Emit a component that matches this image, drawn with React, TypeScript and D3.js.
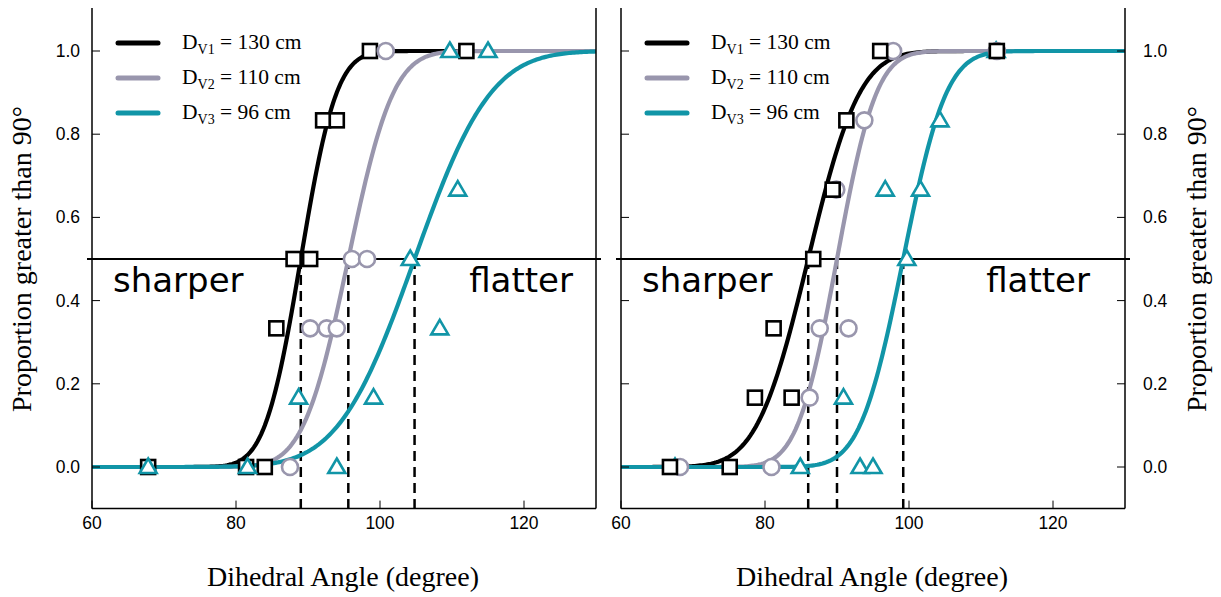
import React from "react";
import * as d3 from "d3";

// ---------- data ----------
const xTicks = [60, 80, 100, 120];
const yTicks = [0, 0.2, 0.4, 0.6, 0.8, 1.0];
const seriesNames = ["D_V1 = 130 cm", "D_V2 = 110 cm", "D_V3 = 96 cm"];
const legendSubs = ["V1", "V2", "V3"];
const legendRest = [" = 130 cm", " = 110 cm", " = 96 cm"];
const colors = ["#000000", "#9996ad", "#1195a7"];

// fitted psychometric functions (PSE, sigma) per panel
const leftPSE = [89.0, 95.6, 104.8];
const leftSigma = [3.9, 4.9, 8.3];
const rightPSE = [86.0, 90.0, 99.2];
const rightSigma = [5.6, 4.3, 4.7];

// left panel observed proportions
const leftSquares: [number, number][] = [
  [67.8, 0], [81.4, 0], [84.0, 0], [85.6, 1 / 3], [88.0, 0.5], [90.3, 0.5],
  [92.1, 5 / 6], [94.0, 5 / 6], [98.6, 1], [112.0, 1],
];
const leftCircles: [number, number][] = [
  [87.5, 0], [90.3, 1 / 3], [92.6, 1 / 3], [94.0, 1 / 3], [96.1, 0.5], [98.2, 0.5],
  [100.8, 1],
];
const leftTriangles: [number, number][] = [
  [67.8, 0], [81.6, 0], [94.0, 0], [88.7, 1 / 6], [99.1, 1 / 6], [108.3, 1 / 3],
  [104.2, 0.5], [110.8, 2 / 3], [109.7, 1], [115.0, 1],
];

// right panel observed proportions
const rightSquares: [number, number][] = [
  [66.8, 0], [75.1, 0], [78.6, 1 / 6], [83.7, 1 / 6], [81.2, 1 / 3], [86.7, 0.5],
  [89.4, 2 / 3], [91.3, 5 / 6], [96.0, 1], [112.2, 1],
];
const rightCircles: [number, number][] = [
  [68.2, 0], [80.9, 0], [86.2, 1 / 6], [87.6, 1 / 3], [91.6, 1 / 3], [89.9, 2 / 3],
  [93.8, 5 / 6], [97.8, 1], [112.2, 1],
];
const rightTriangles: [number, number][] = [
  [67.5, 0], [84.9, 0], [93.2, 0], [95.0, 0], [90.9, 1 / 6], [99.7, 0.5],
  [96.7, 2 / 3], [101.6, 2 / 3], [104.3, 5 / 6], [112.1, 1],
];

// ---------- helpers ----------
function erf(x: number) {
  const s = x < 0 ? -1 : 1;
  x = Math.abs(x);
  const t = 1 / (1 + 0.3275911 * x);
  const y =
    1 -
    ((((1.061405429 * t - 1.453152027) * t + 1.421413741) * t - 0.284496736) * t + 0.254829592) *
      t *
      Math.exp(-x * x);
  return s * y;
}
const cdf = (x: number, m: number, s: number) => 0.5 * (1 + erf((x - m) / (s * Math.SQRT2)));

const yScale = d3.scaleLinear().domain([-0.1, 1.1]).range([508.6, 9.4]);
const Y0 = 508.6;
const Ytop = 8;

const triPath = "M0,-8.5 L8.5,6 L-8.5,6 Z";

const serif = "'Liberation Serif', 'Times New Roman', serif";
const sans = "'Liberation Sans', Arial, sans-serif";
const dejavu = "'DejaVu Sans', sans-serif";

type PanelProps = {
  x0: number;
  x1: number;
  pse: number[];
  sigma: number[];
  squares: [number, number][];
  circles: [number, number][];
  triangles: [number, number][];
  side: "left" | "right";
  flatterRight: number;
};

function Panel({ x0, x1, pse, sigma, squares, circles, triangles, side, flatterRight }: PanelProps) {
  const xScale = d3.scaleLinear().domain([60, 130]).range([x0, x1]);
  const grid = d3.range(60, 130.001, 0.25);

  const curves = pse.map((m, i) => {
    const path = d3
      .line<number>()
      .x((d) => xScale(d))
      .y((d) => yScale(cdf(d, m, sigma[i])))(grid);
    return <path key={"c" + i} d={path || ""} fill="none" stroke={colors[i]} strokeWidth={4.2} />;
  });

  const sq = squares.map(([x, y], i) => (
    <rect
      key={"s" + i}
      x={xScale(x) - 7}
      y={yScale(y) - 7}
      width={14}
      height={14}
      fill="#fff"
      stroke={colors[0]}
      strokeWidth={2.6}
    />
  ));
  const ci = circles.map(([x, y], i) => (
    <circle key={"o" + i} cx={xScale(x)} cy={yScale(y)} r={8} fill="#fff" stroke={colors[1]} strokeWidth={2.6} />
  ));
  const tr = triangles.map(([x, y], i) => (
    <path
      key={"t" + i}
      d={triPath}
      transform={`translate(${xScale(x)},${yScale(y)})`}
      fill="#fff"
      stroke={colors[2]}
      strokeWidth={2.6}
      strokeLinejoin="miter"
    />
  ));

  const markers = side === "left" ? [sq, ci, tr] : [tr, ci, sq];

  const legX = x0 + 26;
  const legY = [43, 78, 113];

  return (
    <g>
      {/* 0.5 reference line */}
      <line x1={x0 - 5} x2={x1 + 5} y1={yScale(0.5)} y2={yScale(0.5)} stroke="#000" strokeWidth={1.8} />
      {/* dashed drop lines */}
      {pse.map((m, i) => (
        <line
          key={"d" + i}
          x1={xScale(m)}
          x2={xScale(m)}
          y1={yScale(0.5)}
          y2={Y0}
          stroke="#000"
          strokeWidth={2.5}
          strokeDasharray="10,6"
        />
      ))}
      {/* curves */}
      <g>{curves}</g>
      {/* markers */}
      {markers.map((m, i) => (
        <g key={"m" + i}>{m}</g>
      ))}
      {/* axes frame */}
      <line x1={x0} x2={x0} y1={Ytop} y2={Y0} stroke="#000" strokeWidth={1.5} />
      <line x1={x1} x2={x1} y1={Ytop} y2={Y0} stroke="#000" strokeWidth={1.5} />
      <line x1={x0} x2={x1} y1={Y0} y2={Y0} stroke="#000" strokeWidth={1.5} />
      {/* x ticks */}
      {xTicks.map((t) => (
        <g key={"xt" + t}>
          <line x1={xScale(t)} x2={xScale(t)} y1={Y0} y2={Y0 - 8} stroke="#000" strokeWidth={1} />
          <text x={xScale(t)} y={529} textAnchor="middle" fontFamily={sans} fontSize={17.5}>
            {t}
          </text>
        </g>
      ))}
      {/* y ticks */}
      {yTicks.map((t) => (
        <g key={"yt" + t}>
          {side === "left" ? (
            <>
              <line x1={x0} x2={x0 + 8} y1={yScale(t)} y2={yScale(t)} stroke="#000" strokeWidth={1} />
              <text x={x0 - 12} y={yScale(t) + 6} textAnchor="end" fontFamily={sans} fontSize={17.5}>
                {t.toFixed(1)}
              </text>
            </>
          ) : (
            <>
              <line x1={x0} x2={x0 + 8} y1={yScale(t)} y2={yScale(t)} stroke="#000" strokeWidth={1} />
              <line x1={x1} x2={x1 - 8} y1={yScale(t)} y2={yScale(t)} stroke="#000" strokeWidth={1} />
              <text x={x1 + 18} y={yScale(t) + 6} textAnchor="start" fontFamily={sans} fontSize={17.5}>
                {t.toFixed(1)}
              </text>
            </>
          )}
        </g>
      ))}
      {/* sharper / flatter */}
      <text x={x0 + 21} y={292} fontFamily={dejavu} fontSize={34}>
        sharper
      </text>
      <text x={flatterRight} y={292} textAnchor="end" fontFamily={dejavu} fontSize={34}>
        flatter
      </text>
      {/* legend */}
      {seriesNames.map((n, i) => (
        <g key={"l" + i}>
          <line
            x1={legX}
            x2={legX + 40}
            y1={legY[i]}
            y2={legY[i]}
            stroke={colors[i]}
            strokeWidth={5}
            strokeLinecap="round"
          />
          <text x={legX + 64} y={legY[i] + 6} fontFamily={serif} fontSize={21.5}>
            D
            <tspan fontSize={14} dy={5}>
              {legendSubs[i]}
            </tspan>
            <tspan dy={-5}>{legendRest[i]}</tspan>
          </text>
        </g>
      ))}
      {/* x title */}
      <text x={(x0 + x1) / 2 - 1} y={586} textAnchor="middle" fontFamily={serif} fontSize={28}>
        Dihedral Angle (degree)
      </text>
      {/* y title */}
      <text
        transform={`translate(${side === "left" ? 31 : 1206},${yScale(0.5)}) rotate(-90)`}
        textAnchor="middle"
        fontFamily={serif}
        fontSize={28}
      >
        Proportion greater than 90°
      </text>
    </g>
  );
}

export default function App() {
  return (
    <svg
      width={1221}
      height={597}
      style={{ position: "absolute", left: 0, top: 0, background: "#fff" }}
    >
      <rect width={1221} height={597} fill="#fff" />
      <Panel
        x0={92}
        x1={596}
        pse={leftPSE}
        sigma={leftSigma}
        squares={leftSquares}
        circles={leftCircles}
        triangles={leftTriangles}
        side="left"
        flatterRight={573}
      />
      <Panel
        x0={621}
        x1={1125}
        pse={rightPSE}
        sigma={rightSigma}
        squares={rightSquares}
        circles={rightCircles}
        triangles={rightTriangles}
        side="right"
        flatterRight={1090}
      />
    </svg>
  );
}
